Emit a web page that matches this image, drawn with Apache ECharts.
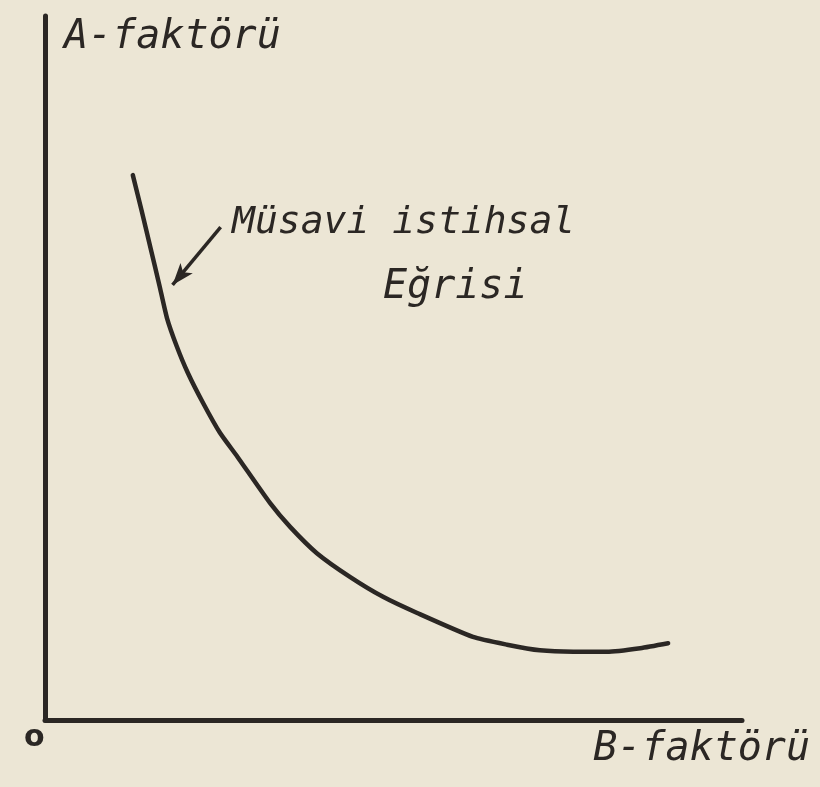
<!DOCTYPE html>
<html>
<head>
<meta charset="utf-8">
<title>Müsavi istihsal Eğrisi</title>
<script src="https://cdn.jsdelivr.net/npm/echarts@6/dist/echarts.min.js"></script>
<style>
    html, body { margin: 0; padding: 0; background: #ece6d5; }
    #chart { width: 820px; height: 787px; }
</style>
</head>
<body>
<div id="chart"></div>
<script>
// B-faktörü (x) ve A-faktörü (y), 0-100 arası göreli birim
var bFactor = [12.6, 13.9, 15.2, 16.4, 17.5, 18.9, 20.5, 22.7, 25.1, 27.6, 32.3, 35.2,
    39.0, 43.8, 48.5, 53.4, 61.4, 66.3, 71.0, 75.8, 80.6, 85.4, 89.4];
var aFactor = [77.4, 72.2, 66.8, 61.8, 57.1, 53.1, 49.3, 45.0, 40.8, 37.4, 30.8, 27.4,
    23.7, 20.3, 17.5, 15.2, 11.8, 10.7, 9.9, 9.7, 9.7, 10.2, 10.9];
// ok: yazıdan eğriye
var arrowFrom = [25.2, 70.0];
var arrowTo = [18.3, 61.8];

var ink = '#2b2724';
var font = '"DejaVu Sans Mono"';

var curve = [];
for (var i = 0; i < bFactor.length; i++) {
    curve.push([bFactor[i], aFactor[i]]);
}

var chart = echarts.init(document.getElementById('chart'));
var option = {
    backgroundColor: '#ece6d5',
    animation: false,
    grid: {
        left: 45,
        right: 78,
        top: 16,
        bottom: 67
    },
    xAxis: {
        type: 'value',
        min: 0,
        max: 100,
        axisLine: {show: true, lineStyle: {color: ink, width: 5}},
        axisTick: {show: false},
        axisLabel: {show: false},
        splitLine: {show: false}
    },
    yAxis: {
        type: 'value',
        min: 0,
        max: 100,
        axisLine: {show: true, lineStyle: {color: ink, width: 5}},
        axisTick: {show: false},
        axisLabel: {show: false},
        splitLine: {show: false}
    },
    graphic: [
        {
            type: 'text', left: 64, top: 18,
            style: {text: 'A-faktörü', font: 'italic 40px ' + font, fill: ink}
        },
        {
            type: 'text', right: 10, top: 730,
            style: {text: 'B-faktörü', font: 'italic 40px ' + font, fill: ink}
        },
        {
            type: 'text', left: 24, top: 723,
            style: {text: 'o', font: 'bold 30px "DejaVu Sans"', fill: ink}
        },
        {
            type: 'text', left: 232, top: 204,
            style: {text: 'Müsavi istihsal', font: 'italic 38px ' + font, fill: ink}
        },
        {
            type: 'text', left: 383, top: 268,
            style: {text: 'Eğrisi', font: 'italic 40px ' + font, fill: ink}
        }
    ],
    series: [
        {
            type: 'line',
            data: curve,
            smooth: 0.2,
            symbol: 'none',
            lineStyle: {color: ink, width: 4.5, cap: 'round', join: 'round'},
            markLine: {
                silent: true,
                symbol: ['none', 'arrow'],
                symbolSize: [12, 22],
                label: {show: false},
                lineStyle: {color: ink, width: 3.5, type: 'solid'},
                data: [[{coord: arrowFrom}, {coord: arrowTo}]]
            }
        }
    ]
};
chart.setOption(option);
</script>
</body>
</html>
